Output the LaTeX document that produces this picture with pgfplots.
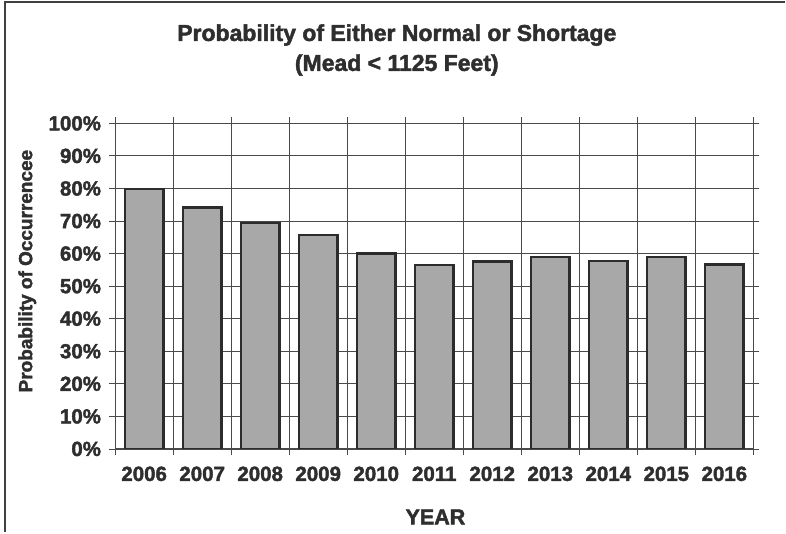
\documentclass[border=0pt]{standalone}
\usepackage{pgfplots}
\pgfplotsset{compat=1.18}
\usepackage{fontspec}
\setmainfont{Liberation Sans}[BoldFeatures={FakeBold=2}]
\definecolor{barfill}{HTML}{A8A8A8}
\definecolor{baredge}{HTML}{2C2C2C}
\definecolor{gridc}{HTML}{4A4A4A}
\definecolor{txt}{HTML}{2E2E2E}
\newcommand{\tickfont}{\fontsize{20.5bp}{24bp}\selectfont\bfseries}
\begin{document}
\begin{tikzpicture}
\begin{axis}[
  at={(0,0)}, anchor=south west,
  scale only axis, width=639bp, height=326bp,
  xmin=-0.5, xmax=10.5, ymin=0, ymax=100,
  xtick={0,...,10},
  xticklabels={2006,2007,2008,2009,2010,2011,2012,2013,2014,2015,2016},
  minor xtick={-0.5,0.5,...,10.5},
  xminorgrids=true,
  ytick={0,10,...,100},
  yticklabels={0\%,10\%,20\%,30\%,40\%,50\%,60\%,70\%,80\%,90\%,100\%},
  ymajorgrids=true,
  tick align=outside,
  major tick length=6bp,
  minor tick length=6bp,
  major x tick style={draw=none},
  minor x tick style={gridc, line width=0.8bp},
  major y tick style={gridc, line width=0.8bp},
  every major grid/.style={gridc, line width=0.8bp},
  every minor grid/.style={gridc, line width=0.8bp},
  axis line style={gridc, line width=0.9bp},
  xticklabel style={font=\tickfont, text=txt, anchor=base, yshift=-26bp},
  yticklabel style={font=\tickfont, text=txt, anchor=east, inner sep=0pt, xshift=-8bp},
  ybar, bar width=0.664,
]
\addplot[fill=barfill, draw=baredge, line width=2.5bp] coordinates {
(0,79.8) (1,74.1) (2,69.4) (3,65.7) (4,60.0) (5,56.5) (6,57.5) (7,59.0) (8,57.7) (9,59.0) (10,56.6)
};
\end{axis}
\path (-115.3bp,-83.5bp) rectangle (670.7bp,449.5bp);
\draw[black!75, line width=2bp] (-110.3bp,-83.5bp) -- (-110.3bp,447bp) -- (670.7bp,447bp);
\node[anchor=base, text=txt, font=\fontsize{23bp}{27bp}\selectfont\bfseries] at (282bp,408.5bp) {Probability of Either Normal or Shortage};
\node[anchor=base, text=txt, font=\fontsize{23bp}{27bp}\selectfont\bfseries] at (282bp,378.5bp) {(Mead < 1125 Feet)};
\node[anchor=base, text=txt, font=\fontsize{21.5bp}{25bp}\selectfont\bfseries] at (320.7bp,-75.5bp) {YEAR};
\node[rotate=90, text=txt, font=\fontsize{19bp}{23bp}\selectfont\bfseries] at (-88bp,178bp) {Probability of Occurrencee};
\end{tikzpicture}
\end{document}
